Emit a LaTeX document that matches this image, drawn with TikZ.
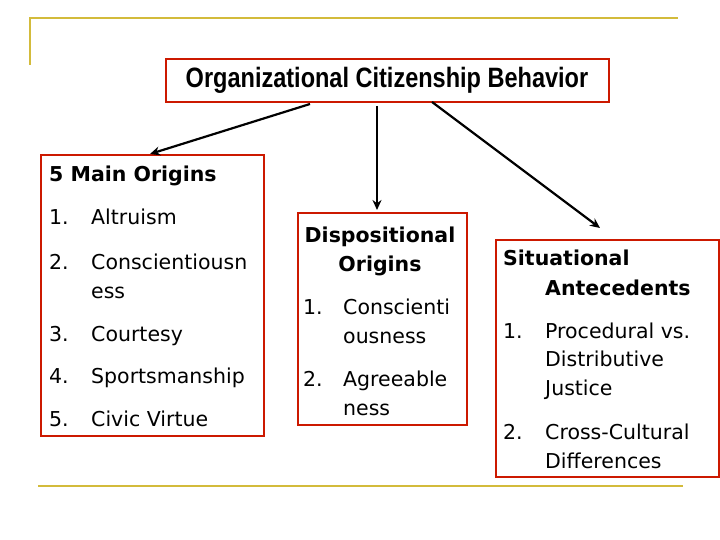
\documentclass[tikz,border=0pt]{standalone}
\usepackage{fontspec}
\setmainfont{DejaVu Sans}
\newfontfamily\titlefont{Liberation Sans}
\usetikzlibrary{arrows.meta}
\begin{document}
\begin{tikzpicture}[x=1pt,y=-1pt,
 box/.style={draw=red!75!black!80!orange,line width=1.2pt},
 gold/.style={draw=yellow!60!brown!90!black,line width=2.5pt},
 t/.style={anchor=base west,inner sep=0pt,font=\fontsize{20.5}{24}\selectfont},
 tb/.style={t,font=\fontsize{20.5}{24}\selectfont\bfseries},
 arr/.style={line width=2.2pt,-{Stealth[length=10pt,width=9pt]}}]
\useasboundingbox (0,0) rectangle (720,540);
\draw[gold] (30,65) -- (30,18) -- (678,18);
\draw[gold] (38,486) -- (683,486);
\draw[box] (166,59) rectangle (609,102);
\node[inner sep=0pt] (title) at (387,80) {\titlefont\fontsize{28}{30}\selectfont\bfseries\scalebox{0.84}[1]{Organizational Citizenship Behavior}};
\draw[box] (41,155) rectangle (264,436);
\draw[box] (298,213) rectangle (467,425);
\draw[box] (496,240) rectangle (719,477);
\coordinate (a1) at (310,104); \coordinate (b1) at (150,154);
\coordinate (a2) at (377,106); \coordinate (b2) at (377,210);
\coordinate (a3) at (432,102); \coordinate (b3) at (600,228);
\draw[arr] (a1) -- (b1);
\draw[arr] (a2) -- (b2);
\draw[arr] (a3) -- (b3);
\begin{scope}[yshift=-7pt]
\node[tb] (h1) at (49,175) {5 Main Origins};
\node[t] (n11) at (49,218) {1.}; \node[t] (i11) at (91,218) {Altruism};
\node[t] (n12) at (49,262) {2.}; \node[t] (i12) at (91,262) {Conscientiousn}; \node[t] (i12b) at (91,291) {ess};
\node[t] (n13) at (49,334) {3.}; \node[t] (i13) at (91,334) {Courtesy};
\node[t] (n14) at (49,376) {4.}; \node[t] (i14) at (91,376) {Sportsmanship};
\node[t] (n15) at (49,419) {5.}; \node[t] (i15) at (91,419) {Civic Virtue};
\node[tb,anchor=base] (h2) at (380,235) {Dispositional};
\node[tb,anchor=base] (h2b) at (380,264) {Origins};
\node[t] (n21) at (303,307) {1.}; \node[t] (i21) at (343,307) {Conscienti}; \node[t] (i21b) at (343,336) {ousness};
\node[t] (n22) at (303,379) {2.}; \node[t] (i22) at (343,379) {Agreeable}; \node[t] (i22b) at (343,408) {ness};
\node[tb] (h3) at (503,258) {Situational};
\node[tb] (h3b) at (545,288) {Antecedents};
\node[t] (n31) at (503,331) {1.}; \node[t] (i31) at (545,331) {Procedural vs.};
\node[t] (i31b) at (545,359) {Distributive}; \node[t] (i31c) at (545,388) {Justice};
\node[t] (n32) at (503,432) {2.}; \node[t] (i32) at (545,432) {Cross-Cultural}; \node[t] (i32b) at (545,461) {Differences};
\end{scope}
\end{tikzpicture}
\end{document}
